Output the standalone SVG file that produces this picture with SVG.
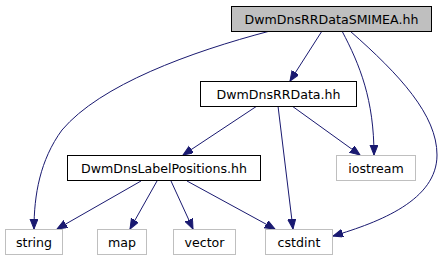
<svg xmlns="http://www.w3.org/2000/svg" width="443" height="261" viewBox="0 0 443 261">
<style>
.n rect{fill:#fff;stroke:#000;stroke-width:1}
.g rect{fill:#fff;stroke:#bfbfbf;stroke-width:1}
.top rect{fill:#bfbfbf;stroke:#000;stroke-width:1}
text{font-family:"DejaVu Sans",sans-serif;font-size:12.6px;text-anchor:middle;fill:#000}
.e path{fill:none;stroke:#191970;stroke-width:1;marker-end:url(#a)}
</style>
<defs>
<marker id="a" markerUnits="userSpaceOnUse" markerWidth="12" markerHeight="10" refX="10" refY="4" orient="auto" viewBox="0 0 12 10">
<path d="M0,0 L10,4 L0,8 z" fill="#191970" stroke="#191970"/>
</marker>
</defs>
<rect width="443" height="261" fill="#fff"/>
<g class="e" id="edges">
<path d="M270,31 C190,52 100,85 62,130 C40,160 34,195 34,229"/>
<path d="M322,31 L290,81"/>
<path d="M342,31 C360,65 374,100 374,155"/>
<path d="M350,31 C400,75 437,115 437,155 C437,200 380,222 333,236"/>
<path d="M257,106 L183,155"/>
<path d="M292,106 L360,155"/>
<path d="M278,106 L293,229"/>
<path d="M141,181 L57,229"/>
<path d="M157,181 L130,229"/>
<path d="M171,181 L193,229"/>
<path d="M187,181 L275,229"/>
</g>
<g id="n0" class="top"><rect x="231.5" y="6.5" width="200" height="25"/><text x="331.5" y="23.5">DwmDnsRRDataSMIMEA.hh</text></g>
<g id="n1" class="n"><rect x="200.5" y="81.5" width="156" height="25"/><text x="278.5" y="98.5">DwmDnsRRData.hh</text></g>
<g id="n2" class="n"><rect x="67.5" y="155.5" width="193" height="25"/><text x="164" y="172.5">DwmDnsLabelPositions.hh</text></g>
<g id="n3" class="g"><rect x="336.5" y="155.5" width="79" height="25"/><text x="376" y="172.5">iostream</text></g>
<g id="n4" class="g"><rect x="5.5" y="229.5" width="57" height="25"/><text x="34" y="246.5">string</text></g>
<g id="n5" class="g"><rect x="97.5" y="229.5" width="49" height="25"/><text x="122" y="246.5">map</text></g>
<g id="n6" class="g"><rect x="173.5" y="229.5" width="62" height="25"/><text x="204.5" y="246.5">vector</text></g>
<g id="n7" class="g"><rect x="265.5" y="229.5" width="67" height="25"/><text x="299" y="246.5">cstdint</text></g>
</svg>
